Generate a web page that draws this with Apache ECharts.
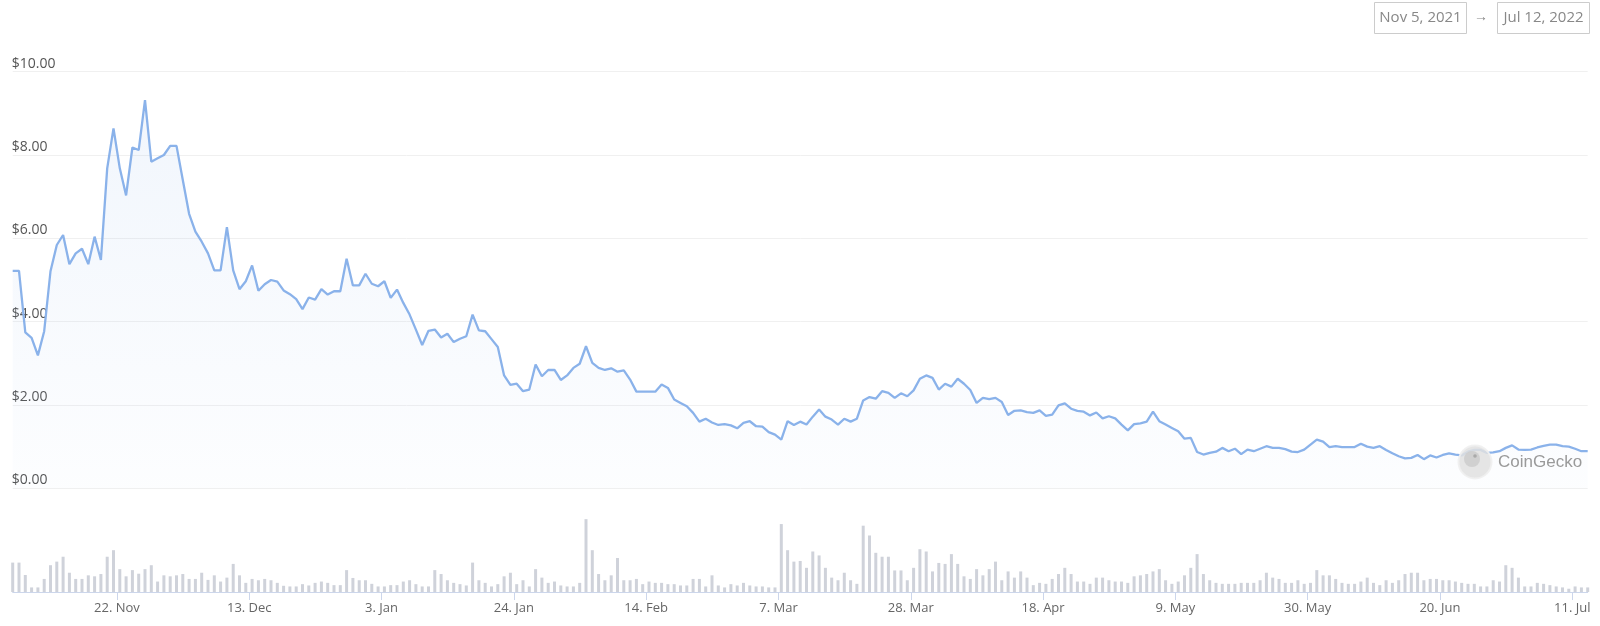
<!DOCTYPE html>
<html>
<head>
<meta charset="utf-8">
<script src="https://cdn.jsdelivr.net/npm/echarts@6/dist/echarts.min.js"></script>
<style>
  html, body { margin: 0; padding: 0; background: #fff; }
  #chart { width: 1600px; height: 626px; }
</style>
</head>
<body>
<div id="chart"></div>
<script>
// ---- data ----
const startDate = '2021-11-05';
const prices = [
  5.22,5.22,3.74,3.61,3.19,3.77,5.21,5.84,6.08,5.38,
  5.64,5.75,5.38,6.04,5.48,7.68,8.64,7.68,7.03,8.18,
  8.12,9.32,7.84,7.92,8.00,8.22,8.22,7.40,6.59,6.16,
  5.92,5.64,5.23,5.23,6.27,5.23,4.78,4.97,5.35,4.74,
  4.90,5.00,4.96,4.75,4.66,4.54,4.30,4.58,4.53,4.78,
  4.65,4.73,4.73,5.51,4.87,4.87,5.15,4.91,4.85,4.97,
  4.57,4.77,4.45,4.17,3.81,3.44,3.78,3.81,3.62,3.71,
  3.51,3.59,3.65,4.17,3.79,3.77,3.58,3.39,2.71,2.48,
  2.51,2.33,2.37,2.97,2.69,2.84,2.84,2.60,2.71,2.89,
  2.99,3.41,3.01,2.89,2.84,2.88,2.80,2.83,2.61,2.32,
  2.32,2.32,2.32,2.49,2.41,2.13,2.05,1.97,1.81,1.60,
  1.67,1.58,1.52,1.54,1.51,1.44,1.57,1.61,1.49,1.48,
  1.35,1.29,1.17,1.61,1.52,1.60,1.53,1.72,1.89,1.72,
  1.65,1.53,1.67,1.60,1.67,2.11,2.19,2.15,2.33,2.29,
  2.17,2.28,2.21,2.35,2.63,2.71,2.65,2.37,2.51,2.44,
  2.63,2.51,2.36,2.05,2.17,2.14,2.17,2.07,1.76,1.86,
  1.87,1.83,1.81,1.87,1.74,1.77,1.99,2.04,1.91,1.86,
  1.84,1.75,1.82,1.68,1.73,1.68,1.53,1.39,1.54,1.56,
  1.60,1.84,1.61,1.53,1.45,1.37,1.19,1.21,0.87,0.81,
  0.85,0.88,0.97,0.89,0.95,0.82,0.93,0.89,0.95,1.01,
  0.97,0.97,0.94,0.88,0.87,0.93,1.05,1.17,1.12,0.99,
  1.01,0.99,0.99,0.99,1.07,1.00,0.97,1.01,0.92,0.84,
  0.77,0.72,0.73,0.80,0.70,0.79,0.74,0.80,0.84,0.81,
  0.79,0.88,0.92,0.92,0.85,0.86,0.89,0.97,1.03,0.93,
  0.92,0.93,0.98,1.02,1.05,1.05,1.01,1.00,0.95,0.89,
  0.89
];
const volumes = [
  90,90,52,14,14,40,82,93,108,59,
  40,40,51,48,55,108,128,70,48,67,
  56,70,82,32,51,48,51,55,40,40,
  59,37,51,32,44,86,51,28,40,36,
  40,36,28,19,17,17,24,20,28,32,
  28,21,21,67,43,36,36,25,17,17,
  21,21,32,36,24,17,17,67,55,36,
  28,24,20,90,36,28,17,24,48,59,
  24,36,17,70,44,28,32,20,17,17,
  28,223,128,55,36,51,104,36,36,40,
  24,32,28,28,24,24,20,20,40,40,
  17,51,20,14,24,20,28,20,17,17,
  14,14,208,128,93,95,74,124,112,74,
  44,36,59,36,25,203,173,120,108,108,
  66,66,36,74,131,124,63,89,86,116,
  86,48,40,70,51,70,93,36,63,44,
  63,44,21,28,25,40,55,74,55,32,
  32,25,44,44,36,32,32,28,48,51,
  55,63,70,36,25,32,51,74,116,55,
  36,28,25,25,25,28,28,28,36,59,
  44,40,28,28,36,25,28,67,51,51,
  40,28,25,25,32,44,28,21,36,28,
  36,55,59,59,36,40,40,36,36,32,
  28,25,25,17,17,36,32,82,74,44,
  17,17,28,25,21,17,14,10,17,14,
  14
];
const tickDates = ['2021-11-22','2021-12-13','2022-01-03','2022-01-24','2022-02-14','2022-03-07',
                   '2022-03-28','2022-04-18','2022-05-09','2022-05-30','2022-06-20','2022-07-11'];
const tickLabels = ['22. Nov','13. Dec','3. Jan','24. Jan','14. Feb','7. Mar',
                    '28. Mar','18. Apr','9. May','30. May','20. Jun','11. Jul'];
const rangeFrom = 'Nov 5, 2021';
const rangeTo = 'Jul 12, 2022';

// ---- build ----
const DAY = 86400000;
function utc(s) { const p = s.split('-').map(Number); return Date.UTC(p[0], p[1]-1, p[2]); }
const base = utc(startDate);
const pointOffset = 0.45; // sample time within each day
const days = prices.map((_, i) => i + pointOffset);
const priceData = prices.map((v, i) => [days[i], v]);
const volData = volumes.map((v, i) => [days[i], v]);
const tickDays = tickDates.map(d => Math.round((utc(d) - base) / DAY));
const labelMap = {};
tickDays.forEach((t, i) => { labelMap[t] = tickLabels[i]; });
const xMin = days[0], xMax = days[days.length - 1];

const chart = echarts.init(document.getElementById('chart'), null, { renderer: 'canvas' });
const font = '"Open Sans", "Liberation Sans", sans-serif';

chart.setOption({
  animation: false,
  backgroundColor: '#ffffff',
  grid: [
    { left: 12.7, right: 12.3, top: 71.7, bottom: 137.7 },
    { left: 12.7, right: 12.3, top: 494, bottom: 34 }
  ],
  xAxis: [
    { type: 'value', gridIndex: 0, min: xMin, max: xMax, show: false, splitLine: { show: false } },
    {
      type: 'value', gridIndex: 1, min: xMin, max: xMax,
      axisLine: { show: true, lineStyle: { color: '#ccd6eb', width: 1 } },
      axisTick: { show: true, customValues: tickDays, length: 8, lineStyle: { color: '#ccd6eb' } },
      axisLabel: {
        customValues: tickDays, margin: 10, color: '#666', fontSize: 13, fontFamily: font,
        formatter: v => labelMap[Math.round(v)] || ''
      },
      splitLine: { show: false }
    }
  ],
  yAxis: [
    {
      type: 'value', gridIndex: 0, min: 0, max: 10, interval: 2,
      axisLine: { show: false }, axisTick: { show: false },
      axisLabel: {
        inside: true, margin: -1, verticalAlign: 'bottom', padding: [0, 0, 1, 0],
        color: '#555', fontSize: 14, fontFamily: font,
        formatter: v => '$' + v.toFixed(2)
      },
      splitLine: { show: true, lineStyle: { color: '#f0f0f0', width: 1 } }
    },
    { type: 'value', gridIndex: 1, min: 0, max: 300, show: false, splitLine: { show: false } }
  ],
  series: [
    {
      type: 'line', xAxisIndex: 0, yAxisIndex: 0, data: priceData,
      symbol: 'none', smooth: false,
      lineStyle: { color: '#8ab2ea', width: 2.3 },
      areaStyle: {
        color: new echarts.graphic.LinearGradient(0, 0, 0, 1, [
          { offset: 0, color: 'rgba(138,178,234,0.17)' },
          { offset: 1, color: 'rgba(138,178,234,0.03)' }
        ])
      },
      z: 3
    },
    {
      type: 'bar', xAxisIndex: 1, yAxisIndex: 1, data: volData,
      barWidth: 3, itemStyle: { color: '#cfd2da' }
    }
  ],
  graphic: [
    { type: 'rect', shape: { x: 1374.5, y: 2.5, width: 92, height: 31 }, style: { fill: '#fff', stroke: '#cccccc', lineWidth: 1 } },
    { type: 'text', x: 1420.5, y: 18, style: { text: rangeFrom, fill: '#888', font: '15px ' + font, align: 'center', verticalAlign: 'middle' } },
    { type: 'text', x: 1481, y: 17, style: { text: '→', fill: '#888', font: '14px ' + font, align: 'center', verticalAlign: 'middle' } },
    { type: 'rect', shape: { x: 1497.5, y: 2.5, width: 92, height: 31 }, style: { fill: '#fff', stroke: '#cccccc', lineWidth: 1 } },
    { type: 'text', x: 1543.5, y: 18, style: { text: rangeTo, fill: '#888', font: '15px ' + font, align: 'center', verticalAlign: 'middle' } },
    { type: 'circle', shape: { cx: 1475, cy: 462, r: 16.5 }, style: { fill: 'rgba(225,225,225,0.85)', stroke: 'rgba(240,240,240,0.9)', lineWidth: 2 }, z: 10 },
    { type: 'circle', shape: { cx: 1472, cy: 459, r: 8 }, style: { fill: 'rgba(205,205,205,0.9)' }, z: 11 },
    { type: 'circle', shape: { cx: 1475, cy: 456, r: 1.8 }, style: { fill: '#aaa' }, z: 12 },
    { type: 'text', x: 1498, y: 462, style: { text: 'CoinGecko', fill: '#9a9a9a', font: '17px "Liberation Sans", Arial, sans-serif', verticalAlign: 'middle' }, z: 10 }
  ]
});
</script>
</body>
</html>
